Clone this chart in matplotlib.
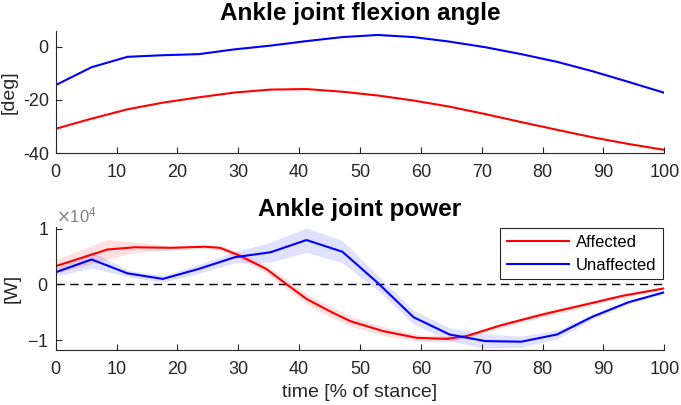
import matplotlib.pyplot as plt
import numpy as np
from matplotlib.ticker import ScalarFormatter

plt.rcParams['font.family'] = ['Liberation Sans', 'DejaVu Sans']
plt.rcParams['axes.unicode_minus'] = False

# stance samples (18 per cycle)
t = [0, 5.9, 11.8, 17.6, 23.5, 29.4, 35.3, 41.2, 47.1, 52.9,
     58.8, 64.7, 70.6, 76.5, 82.4, 88.2, 94.1, 100]

# ankle flexion angle [deg]
angle_affected = [-30.8, -27.0, -23.5, -21.0, -19.0, -17.2, -16.1, -15.9, -16.9, -18.3,
                  -20.2, -22.5, -25.3, -28.3, -31.2, -34.0, -36.5, -38.7]
angle_unaffected = [-14.4, -7.7, -3.8, -3.2, -2.8, -1.0, 0.4, 2.1, 3.6, 4.4,
                    3.6, 1.9, -0.2, -2.8, -5.7, -9.2, -13.2, -17.3]

# ankle power [x10^4 W]
t_aff = [0, 4, 8.5, 13, 19, 24.5, 27, 30, 34.6, 38, 41.2, 45, 48.4, 53.8,
         59.3, 64.2, 67.5, 73, 80, 86.7, 93.3, 100]
power_affected = [0.33, 0.47, 0.63, 0.67, 0.66, 0.68, 0.66, 0.53, 0.28, 0.0, -0.26, -0.48,
                  -0.66, -0.84, -0.96, -0.98, -0.93, -0.74, -0.54, -0.37, -0.20, -0.07]
power_affected_sd = [0.12, 0.15, 0.18, 0.09, 0.04, 0.03, 0.04, 0.06, 0.07, 0.08, 0.09, 0.10,
                     0.09, 0.08, 0.06, 0.05, 0.04, 0.04, 0.05, 0.04, 0.03, 0.02]
power_unaffected = [0.22, 0.45, 0.20, 0.10, 0.28, 0.49, 0.58, 0.80, 0.59, 0.03,
                    -0.59, -0.90, -1.02, -1.03, -0.90, -0.58, -0.32, -0.14]
power_unaffected_sd = [0.07, 0.15, 0.06, 0.06, 0.08, 0.10, 0.18, 0.22, 0.20, 0.13,
                       0.12, 0.12, 0.13, 0.10, 0.08, 0.04, 0.03, 0.02]

RED = '#ff0000'
BLUE = '#0000ff'
AX = '#262626'


def style_axes(ax):
    for side in ['top', 'right']:
        ax.spines[side].set_visible(False)
    for side in ['left', 'bottom']:
        ax.spines[side].set_color(AX)
        ax.spines[side].set_linewidth(0.8)
    ax.tick_params(direction='in', length=4.5, width=0.8, colors=AX, labelsize=13)
    ax.tick_params(axis='x', pad=8)
    ax.tick_params(axis='y', pad=5)
    ax.set_xlim(0, 100)
    ax.set_xticks(np.arange(0, 101, 10))


fig = plt.figure(figsize=(6.81, 4.05), dpi=100)
ax1 = fig.add_axes([0.0818, 0.6215, 0.8937, 0.3027])
ax2 = fig.add_axes([0.0818, 0.1358, 0.8937, 0.3044])

# top: flexion angle
ax1.plot(t, angle_affected, color=RED, lw=1.5)
ax1.plot(t, angle_unaffected, color=BLUE, lw=1.5)
style_axes(ax1)
ax1.set_ylim(-40, 6)
ax1.set_yticks([-40, -20, 0])
ax1.set_ylabel('[deg]', fontsize=14, color=AX)
ax1.yaxis.set_label_coords(-0.062, 0.5)
ax1.set_title('Ankle joint flexion angle', fontsize=17.5, fontweight='bold', pad=8)

# bottom: power with shaded sd
pa = np.array(power_affected) * 1e4
pa_sd = np.array(power_affected_sd) * 1e4
pu = np.array(power_unaffected) * 1e4
pu_sd = np.array(power_unaffected_sd) * 1e4
ax2.fill_between(t_aff, pa - pa_sd, pa + pa_sd, color=RED, alpha=0.12, lw=0)
ax2.fill_between(t, pu - pu_sd, pu + pu_sd, color=BLUE, alpha=0.12, lw=0)
ax2.axhline(0, color='black', lw=1.0, linestyle=(0, (6, 4)))
ax2.plot(t_aff, pa, color=RED, lw=1.5, label='Affected')
ax2.plot(t, pu, color=BLUE, lw=1.5, label='Unaffected')
style_axes(ax2)
ax2.set_ylim(-1.18e4, 1.04e4)
ax2.set_yticks([-1e4, 0, 1e4])
fmt = ScalarFormatter(useMathText=True)
fmt.set_powerlimits((0, 0))
ax2.yaxis.set_major_formatter(fmt)
ax2.yaxis.get_offset_text().set_fontsize(12)
ax2.yaxis.get_offset_text().set_color('#808080')
ax2.set_ylabel('[W]', fontsize=14, color=AX)
ax2.yaxis.set_label_coords(-0.058, 0.5)
ax2.set_xlabel('time [% of stance]', fontsize=14, color=AX, labelpad=4)
ax2.set_title('Ankle joint power', fontsize=17.5, fontweight='bold', pad=8)
leg = ax2.legend(loc='upper right', bbox_to_anchor=(1.0, 1.0), fontsize=12,
                 fancybox=False, framealpha=1, edgecolor=AX, handlelength=3.7,
                 borderpad=0.4, labelspacing=0.45, handletextpad=0.4, borderaxespad=0.1)
leg.get_frame().set_linewidth(0.8)

plt.savefig('out.png', dpi=100)
